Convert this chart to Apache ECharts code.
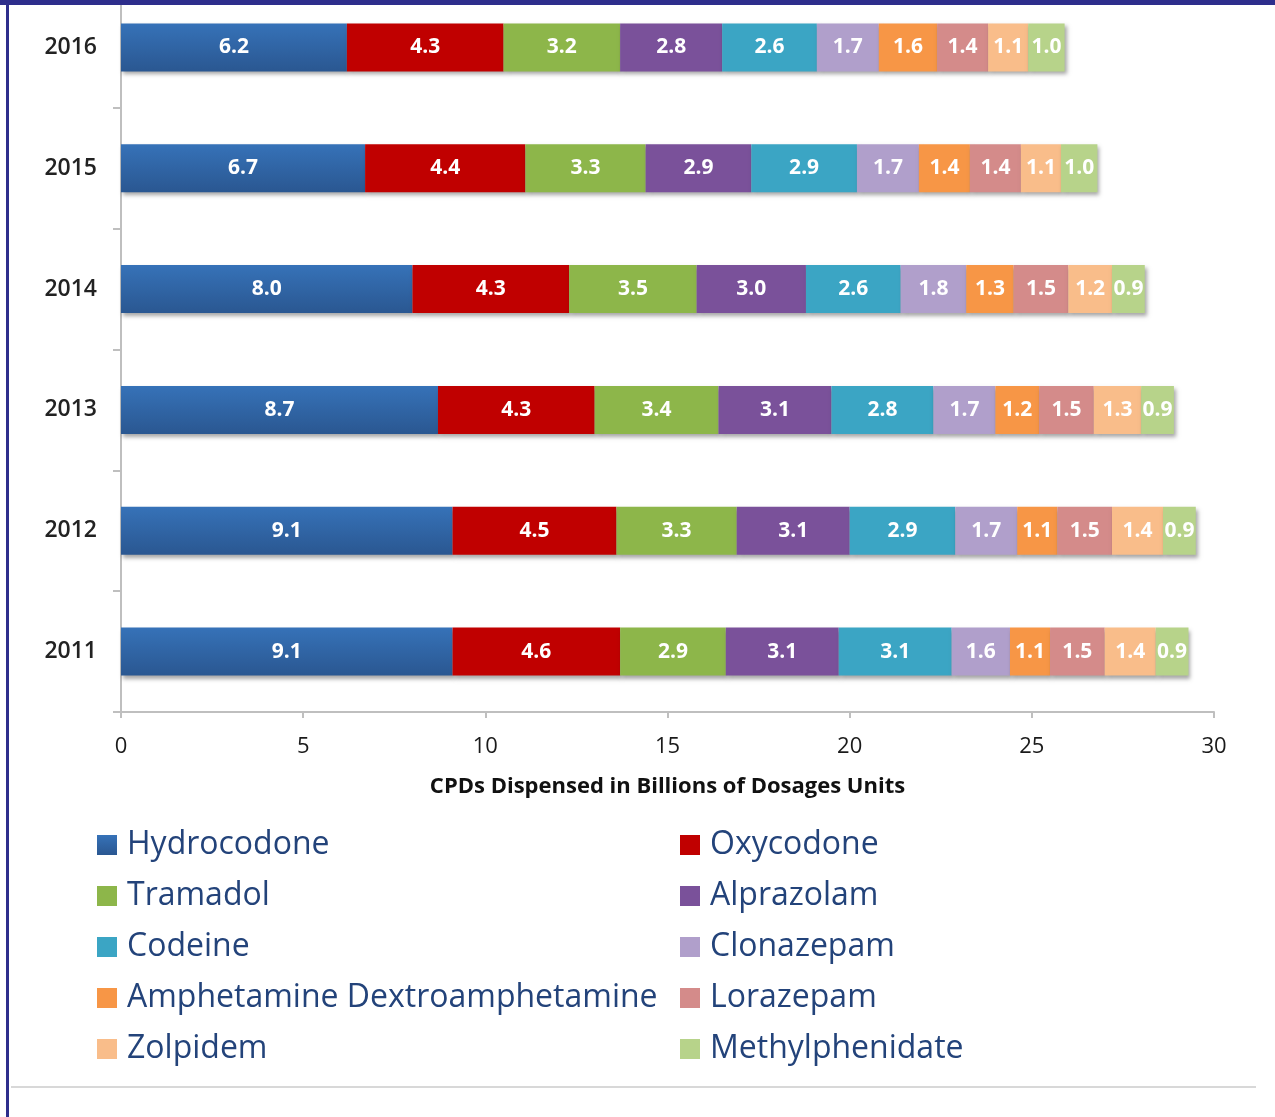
<!DOCTYPE html>
<html><head><meta charset="utf-8">
<script src="https://cdn.jsdelivr.net/npm/echarts@6/dist/echarts.min.js"></script>
<style>html,body{margin:0;padding:0;background:#fff;overflow:hidden}#c{position:absolute;left:0;top:-13px;width:1275px;height:1130px}</style>
</head><body><div id="c"></div>
<script>
const years = ['2011','2012','2013','2014','2015','2016'];
const drugs = ['Hydrocodone','Oxycodone','Tramadol','Alprazolam','Codeine','Clonazepam','Amphetamine Dextroamphetamine','Lorazepam','Zolpidem','Methylphenidate'];
const hydrocodone = [9.1, 9.1, 8.7, 8.0, 6.7, 6.2];
const oxycodone = [4.6, 4.5, 4.3, 4.3, 4.4, 4.3];
const tramadol = [2.9, 3.3, 3.4, 3.5, 3.3, 3.2];
const alprazolam = [3.1, 3.1, 3.1, 3.0, 2.9, 2.8];
const codeine = [3.1, 2.9, 2.8, 2.6, 2.9, 2.6];
const clonazepam = [1.6, 1.7, 1.7, 1.8, 1.7, 1.7];
const amphetamine = [1.1, 1.1, 1.2, 1.3, 1.4, 1.6];
const lorazepam = [1.5, 1.5, 1.5, 1.5, 1.4, 1.4];
const zolpidem = [1.4, 1.4, 1.3, 1.2, 1.1, 1.1];
const methylphenidate = [0.9, 0.9, 0.9, 0.9, 1.0, 1.0];
const xTicks = [0, 5, 10, 15, 20, 25, 30];
const colors = ['#2e63a3','#c00000','#8db64a','#7a519a','#3ba5c4','#b09fcb','#f79646','#d48b8a','#f9bd8a','#b7d38a'];
const values = [hydrocodone, oxycodone, tramadol, alprazolam, codeine, clonazepam, amphetamine, lorazepam, zolpidem, methylphenidate];
const FONT = '"Open Sans", sans-serif';
const OFF = 13; // canvas is shifted up by this many px

const chart = echarts.init(document.getElementById('c'), null, {renderer: 'canvas'});
const series = drugs.map((d, i) => ({
  name: d, type: 'bar', stack: 'total', barWidth: 48,
  data: values[i],
  itemStyle: {
    color: i === 0 ? new echarts.graphic.LinearGradient(0, 0, 0, 1, [{offset: 0, color: '#3672b8'}, {offset: 1, color: '#2a5791'}]) : colors[i],
    shadowColor: 'rgba(0,0,0,0.35)', shadowBlur: 4, shadowOffsetX: 2, shadowOffsetY: 3 },
  label: { show: true, position: 'inside', color: '#fff', fontWeight: 'bold', fontSize: 21, fontFamily: FONT,
    formatter: p => p.value.toFixed(1) }
}));
const leftNames = drugs.filter((d, i) => i % 2 === 0);
const rightNames = drugs.filter((d, i) => i % 2 === 1);
const legendBase = { orient: 'vertical', top: 824 + OFF, itemWidth: 20, itemHeight: 20, itemGap: 19, icon: 'rect',
  textStyle: { fontSize: 32, lineHeight: 32, color: '#23437a', fontFamily: FONT, padding: [0,0,0,5] } };
chart.setOption({
  animation: false,
  grid: { left: 121, right: 61, top: 0, bottom: 1117 - 712, containLabel: false },
  xAxis: { type: 'value', min: 0, max: 30, interval: 5,
    axisLine: { show: true, lineStyle: { color: '#bfbfbf', width: 2 } },
    axisTick: { show: true, length: 6, lineStyle: { color: '#bfbfbf', width: 2 } },
    splitLine: { show: false },
    axisLabel: { fontSize: 22, color: '#1a1a1a', fontFamily: FONT, margin: 24, formatter: v => xTicks.includes(v) ? String(v) : '' },
    name: 'CPDs Dispensed in Billions of Dosages Units', nameLocation: 'middle', nameGap: 64,
    nameTextStyle: { fontSize: 22, fontWeight: 'bold', color: '#111', fontFamily: FONT } },
  yAxis: { type: 'category', data: years,
    axisLine: { show: true, lineStyle: { color: '#bfbfbf', width: 2 } },
    axisTick: { show: true, length: 8, lineStyle: { color: '#bfbfbf', width: 2 } },
    axisLabel: { fontSize: 23, color: '#222', fontFamily: FONT, fontWeight: 600, margin: 24 } },
  legend: [
    Object.assign({}, legendBase, { left: 92, data: leftNames }),
    Object.assign({}, legendBase, { left: 675, data: rightNames })
  ],
  graphic: [
    { type: 'rect', shape: { x: 0, y: 0, width: 1275, height: 5 + OFF }, style: { fill: '#2e2e8c' }, silent: true, z: 100 },
    { type: 'rect', shape: { x: 6, y: 0, width: 3, height: 1130 }, style: { fill: '#2e2e8c' }, silent: true, z: 100 },
    { type: 'rect', shape: { x: 11, y: 1086 + OFF, width: 1245, height: 2 }, style: { fill: '#d8d8d8' }, silent: true }
  ],
  series: series
});
</script></body></html>
